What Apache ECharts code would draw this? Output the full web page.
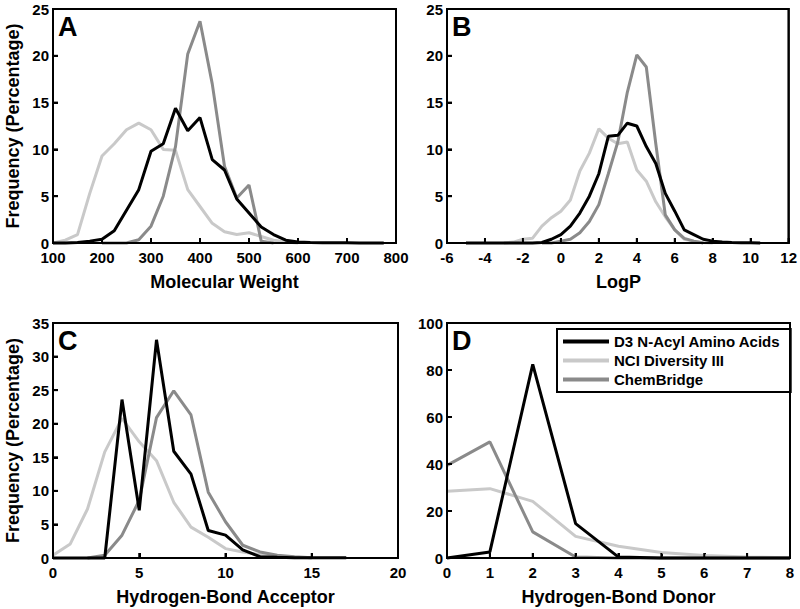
<!DOCTYPE html>
<html>
<head>
<meta charset="utf-8">
<script src="https://cdn.jsdelivr.net/npm/echarts@6/dist/echarts.min.js"></script>
</head>
<body style="margin:0;background:#fff">
<div id="c" style="width:800px;height:609px"></div>
<script>
// ---------- Data ----------
const seriesNames = ['D3 N-Acyl Amino Acids', 'NCI Diversity III', 'ChemBridge'];

// Panel A: Molecular Weight
const mwX_D3  = [100,125,150,175,200,225,250,275,300,325,350,375,400,425,450,475,500,525,550,575,600,625,650,675,700,725,750,775];
const mwY_D3  = [0,0,0.05,0.2,0.4,1.3,3.5,5.7,9.8,10.6,14.4,12.0,13.4,8.9,7.8,4.7,3.2,1.7,0.9,0.3,0.1,0.05,0.03,0.02,0.02,0.01,0.01,0.01];
const mwX_NCI = [100,125,150,175,200,225,250,275,300,325,350,375,400,425,450,475,500,525,550,575,600];
const mwY_NCI = [0,0.3,0.9,5.3,9.3,10.6,12.1,12.8,12.1,10.0,9.9,5.7,3.9,2.1,1.2,0.9,1.1,0.7,0.3,0.1,0];
const mwX_CB  = [200,225,250,275,300,325,350,375,400,425,450,475,500,525,550];
const mwY_CB  = [0,0,0,0.35,1.8,5.0,10.3,20.2,23.7,17.0,8.2,4.8,6.2,0.2,0];

// Panel B: LogP
const lpX_D3  = [-5,-4.5,-4,-3.5,-3,-2.5,-2,-1.5,-1,-0.5,0,0.5,1,1.5,2,2.5,3,3.5,4,4.5,5,5.5,6,6.5,7,7.5,8,8.5,9,9.5,10,10.5];
const lpY_D3  = [0,0,0,0,0,0,0,0,0.05,0.4,0.9,1.8,3.2,5.0,7.4,11.4,11.5,12.8,12.5,10.3,8.5,5.3,3.4,1.4,0.9,0.4,0.2,0.1,0.05,0.03,0.02,0.01];
const lpX_NCI = [-3,-2.5,-2,-1.5,-1,-0.5,0,0.5,1,1.5,2,2.5,3,3.5,4,4.5,5,5.5,6,6.5,7,7.5,8];
const lpY_NCI = [0,0.1,0.4,0.5,1.8,2.7,3.4,4.6,7.7,9.6,12.2,11.2,10.6,10.8,7.8,6.6,4.4,2.8,1.4,0.4,0.2,0.05,0];
const lpX_CB  = [-1,-0.5,0,0.5,1,1.5,2,2.5,3,3.5,4,4.5,5,5.5,6,6.5,7,7.5];
const lpY_CB  = [0,0,0.2,0.4,1.1,2.3,4.1,7.4,10.8,16.1,20.1,18.8,10.6,3.0,1.4,0.5,0.2,0];

// Panel C: Hydrogen-Bond Acceptor
const hbaX_D3  = [0,1,2,3,4,5,6,7,8,9,10,11,12,13,14,15,16,17];
const hbaY_D3  = [0,0,0,0,23.6,7.1,32.5,15.9,12.5,4.1,3.4,1.2,0.2,0.1,0.05,0.05,0.05,0.05];
const hbaX_NCI = [0,1,2,3,4,5,6,7,8,9,10,11,12,13,14,15];
const hbaY_NCI = [0.4,2.1,7.3,15.8,20.8,17.3,14.5,8.3,4.6,3.1,1.4,0.9,0.5,0.3,0.1,0.05];
const hbaX_CB  = [2,3,4,5,6,7,8,9,10,11,12,13,14,15];
const hbaY_CB  = [0,0.4,3.4,8.6,20.9,24.9,21.3,9.8,5.4,1.9,0.9,0.4,0.2,0.05];

// Panel D: Hydrogen-Bond Donor
const hbdX     = [0,1,2,3,4,5,6,7,8];
const hbdY_D3  = [0,2.6,82.4,14.6,0.4,0,0,0,0];
const hbdY_NCI = [28.4,29.5,24.1,9.2,5.0,2.3,1.1,0.4,0.1];
const hbdY_CB  = [39.4,49.4,11.1,0.4,0,0,0,0,0];

// Axis ranges / ticks / titles
const axesX = [
  {name: 'Molecular Weight', min: 100, max: 800, interval: 100},
  {name: 'LogP', min: -6, max: 12, interval: 2},
  {name: 'Hydrogen-Bond Acceptor', min: 0, max: 20, interval: 5},
  {name: 'Hydrogen-Bond Donor', min: 0, max: 8, interval: 1}
];
const axesY = [
  {name: 'Frequency (Percentage)', min: 0, max: 25, interval: 5},
  {name: '', min: 0, max: 25, interval: 5},
  {name: 'Frequency (Percentage)', min: 0, max: 35, interval: 5},
  {name: '', min: 0, max: 100, interval: 20}
];
const panelLetters = ['A', 'B', 'C', 'D'];

// ---------- Styling ----------
const FONT = '"Liberation Sans", Arial, Helvetica, sans-serif';
const colors = {'D3 N-Acyl Amino Acids': '#000000', 'NCI Diversity III': '#c9c9c9', 'ChemBridge': '#8a8a8a'};
const zOrder = {'D3 N-Acyl Amino Acids': 3, 'NCI Diversity III': 1, 'ChemBridge': 2};

const grids = [
  {left: 53, top: 9, width: 343, height: 234},
  {left: 447, top: 9, width: 343, height: 234},
  {left: 53, top: 323, width: 345, height: 235},
  {left: 447, top: 323, width: 343, height: 235}
];

function zip(xs, ys) { return xs.map((x, i) => [x, ys[i]]); }

const panelData = [
  [[mwX_D3, mwY_D3], [mwX_NCI, mwY_NCI], [mwX_CB, mwY_CB]],
  [[lpX_D3, lpY_D3], [lpX_NCI, lpY_NCI], [lpX_CB, lpY_CB]],
  [[hbaX_D3, hbaY_D3], [hbaX_NCI, hbaY_NCI], [hbaX_CB, hbaY_CB]],
  [[hbdX, hbdY_D3], [hbdX, hbdY_NCI], [hbdX, hbdY_CB]]
];

const series = [];
panelData.forEach((pd, gi) => {
  [1, 2, 0].forEach(si => {
    const nm = seriesNames[si];
    series.push({
      type: 'line', name: nm, xAxisIndex: gi, yAxisIndex: gi,
      data: zip(pd[si][0], pd[si][1]),
      showSymbol: false, symbol: 'none', clip: false,
      z: zOrder[nm],
      lineStyle: {color: colors[nm], width: 3},
      itemStyle: {color: colors[nm]}
    });
  });
});

function axisLbl(margin) {
  return {margin: margin, color: '#000', fontFamily: FONT, fontWeight: 'bold', fontSize: 15};
}

const option = {
  animation: false,
  grid: grids.map(g => Object.assign({show: true, borderColor: '#000', borderWidth: 2}, g)),
  xAxis: axesX.map((a, i) => ({
    type: 'value', gridIndex: i, position: 'bottom', min: a.min, max: a.max, interval: a.interval,
    axisLine: {show: true, onZero: false, lineStyle: {color: '#000', width: 2}},
    axisTick: {show: true, inside: true, length: 5, lineStyle: {color: '#000', width: 2}},
    axisLabel: axisLbl(7), splitLine: {show: false}
  })),
  yAxis: axesY.map((a, i) => ({
    type: 'value', gridIndex: i, position: 'left', min: a.min, max: a.max, interval: a.interval,
    axisLine: {show: true, onZero: false, lineStyle: {color: '#000', width: 2}},
    axisTick: {show: true, inside: true, length: 5, lineStyle: {color: '#000', width: 2}},
    axisLabel: axisLbl(4), splitLine: {show: false}
  })),
  legend: {
    data: seriesNames,
    orient: 'vertical',
    left: 557, top: 329,
    padding: [5, 10, 5, 6],
    itemGap: 4,
    itemWidth: 46, itemHeight: 4,
    icon: 'rect',
    borderColor: '#000', borderWidth: 2,
    backgroundColor: '#fff',
    textStyle: {color: '#000', fontFamily: FONT, fontWeight: 'bold', fontSize: 15},
    selectedMode: false
  },
  series: series
};

// text elements: panel letters and axis titles (layout from grid boxes)
const texts = [];
grids.forEach((g, i) => {
  texts.push({type: 'text', left: g.left + 5, top: g.top + 4, z: 100,
    style: {text: panelLetters[i], fill: '#000', font: 'bold 27px ' + FONT}});
  texts.push({type: 'text', x: g.left + g.width / 2, y: g.top + g.height + 39, z: 100,
    style: {text: axesX[i].name, fill: '#000', font: 'bold 18px ' + FONT, align: 'center', verticalAlign: 'middle'}});
  if (axesY[i].name) {
    texts.push({type: 'text', x: 13, y: g.top + g.height / 2, rotation: Math.PI / 2, z: 100,
      style: {text: axesY[i].name, fill: '#000', font: 'bold 18px ' + FONT, align: 'center', verticalAlign: 'middle'}});
  }
});
option.graphic = texts;

const chart = echarts.init(document.getElementById('c'), null, {renderer: 'svg'});
chart.setOption(option);

// frame and inward ticks, positioned through the axes' own scales
const frame = [];
grids.forEach((g, i) => {
  const ax = axesX[i], ay = axesY[i];
  const x0 = chart.convertToPixel({xAxisIndex: i}, ax.min);
  const x1 = chart.convertToPixel({xAxisIndex: i}, ax.max);
  const y0 = chart.convertToPixel({yAxisIndex: i}, ay.min);
  const y1 = chart.convertToPixel({yAxisIndex: i}, ay.max);
  frame.push({type: 'rect', silent: true, z: 50,
    shape: {x: x0, y: y1, width: x1 - x0, height: y0 - y1},
    style: {fill: 'none', stroke: '#000', lineWidth: 2}});
  for (let k = 0; ax.min + k * ax.interval <= ax.max + 1e-9; k++) {
    const px = chart.convertToPixel({xAxisIndex: i}, ax.min + k * ax.interval);
    frame.push({type: 'line', silent: true, z: 50, shape: {x1: px, y1: y0, x2: px, y2: y0 - 5},
      style: {stroke: '#000', lineWidth: 2}});
  }
  for (let k = 0; ay.min + k * ay.interval <= ay.max + 1e-9; k++) {
    const py = chart.convertToPixel({yAxisIndex: i}, ay.min + k * ay.interval);
    frame.push({type: 'line', silent: true, z: 50, shape: {x1: x0, y1: py, x2: x0 + 5, y2: py},
      style: {stroke: '#000', lineWidth: 2}});
  }
});
chart.setOption({graphic: texts.concat(frame)});
</script>
</body>
</html>
